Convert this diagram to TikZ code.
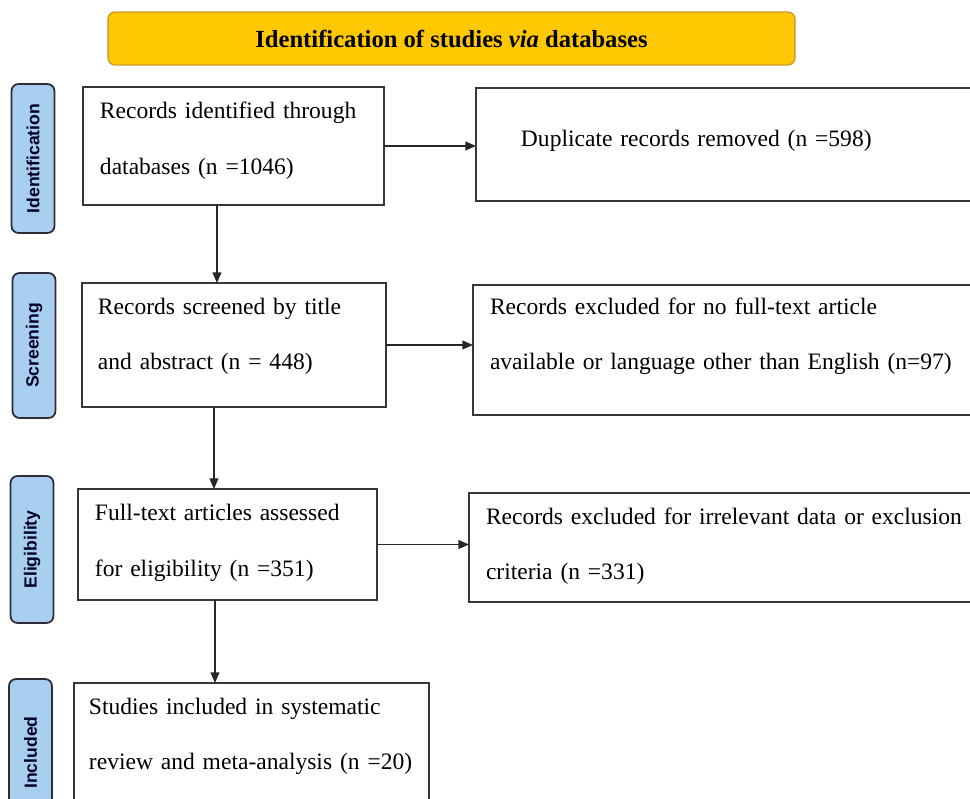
\documentclass[tikz,border=0pt]{standalone}
\usepackage{fontspec}
\setmainfont{Liberation Serif}
\setsansfont{Liberation Sans}
\usepackage{xcolor}
\usetikzlibrary{arrows.meta, positioning, calc}
\definecolor{headYellow}{RGB}{255, 200, 0}
\definecolor{headEdge}{RGB}{205, 155, 40}
\definecolor{phaseBlue}{RGB}{168, 206, 240}
\definecolor{phaseEdge}{RGB}{45, 45, 55}
\definecolor{boxEdge}{RGB}{55, 55, 55}

\begin{document}
\begin{tikzpicture}[x=0.02cm, y=-0.02cm,
    box/.style={draw=boxEdge, line width=1pt, anchor=north west, align=left,
        inner ysep=0pt, outer sep=0pt, font=\fontsize{13.4}{31.8}\selectfont},
    phase/.style={draw=phaseEdge, fill=phaseBlue, line width=1pt, rounded corners=4pt,
        rotate=90, minimum height=0.86cm, inner sep=0pt,
        font=\sffamily\bfseries\fontsize{10}{12}\selectfont, text=black!85!blue},
    arr/.style={-{Triangle[length=6pt, width=5pt]}, line width=0.8pt, black!85}]
    \useasboundingbox (0,0) rectangle (970,798);
    \clip (0,0) rectangle (970,798);

    % Title bar
    \node[draw=headEdge, fill=headYellow, line width=0.8pt, rounded corners=4pt,
          minimum width=13.74cm, minimum height=1.06cm,
          font=\fontsize{14}{16}\selectfont] (head) at (451.5,38.5)
          {\textbf{Identification of studies \textit{via} databases}};

    % Phase labels
    \node[phase, minimum width=2.98cm] (ident) at (33,158.5) {Identification};
    \node[phase, minimum width=2.90cm] (screen) at (34,345.5) {Screening};
    \node[phase, minimum width=2.94cm] (elig) at (32,549.5) {Eligibility};
    \node[phase, minimum width=2.94cm] (incl) at (30.5,752.5) {Included};

    % Main column
    \node[box, inner xsep=0.34cm, text width=5.34cm, text height=0.63cm, text depth=1.73cm]
        (rec) at (83,87) {Records identified through\\databases (n =1046)};
    \node[box, inner xsep=0.32cm, text width=5.44cm, text height=0.62cm, text depth=1.86cm]
        (scr) at (82,283) {Records screened by title\\and abstract (n = 448)};
    \node[box, inner xsep=0.34cm, text width=5.30cm, text height=0.63cm, text depth=1.59cm]
        (full) at (78,489) {Full-text articles assessed\\for eligibility (n =351)};
    \node[box, inner xsep=0.30cm, text width=6.50cm, text height=0.62cm, text depth=2.32cm]
        (inc) at (74,683) {Studies included in systematic\\review and meta-analysis (n =20)};

    % Side column
    \node[box, inner xsep=0.9cm, text width=8.6cm, text height=1.18cm, text depth=1.08cm]
        (dup) at (476,88) {Duplicate records removed (n =598)};
    \node[box, inner xsep=0.34cm, text width=10.2cm, text height=0.58cm, text depth=2.02cm]
        (exa) at (473,285) {Records excluded for no full-text article\\available or language other than English (n=97)};
    \node[box, inner xsep=0.34cm, text width=10.4cm, text height=0.62cm, text depth=1.56cm]
        (exb) at (469,493) {Records excluded for irrelevant data or exclusion\\criteria (n =331)};

    % Arrows
    \draw[arr] (rec.east) -- (rec.east -| dup.west);
    \draw[arr] (scr.east) -- (scr.east -| exa.west);
    \draw[arr] (full.east) -- (full.east -| exb.west);
    \draw[arr] ([xshift=-0.33cm]rec.south) -- ([xshift=-0.33cm]rec.south |- scr.north);
    \draw[arr] ([xshift=-0.40cm]scr.south) -- ([xshift=-0.40cm]scr.south |- full.north);
    \draw[arr] ([xshift=-0.25cm]full.south) -- ([xshift=-0.25cm]full.south |- inc.north);
\end{tikzpicture}
\end{document}
